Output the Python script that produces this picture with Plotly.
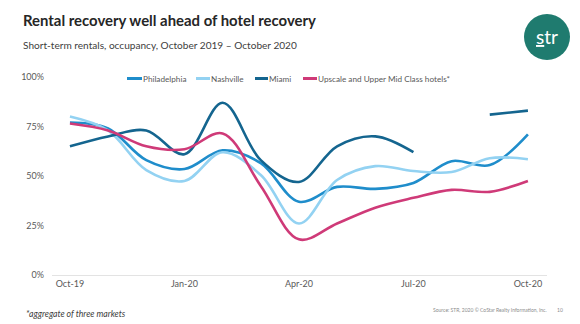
import plotly.graph_objects as go

months = ["Oct-19", "Nov-19", "Dec-19", "Jan-20", "Feb-20", "Mar-20", "Apr-20",
          "May-20", "Jun-20", "Jul-20", "Aug-20", "Sep-20", "Oct-20"]
tick_labels = ["Oct-19", "Jan-20", "Apr-20", "Jul-20", "Oct-20"]

philadelphia = [77, 74, 58, 53.5, 63, 56.5, 37, 44.5, 43.5, 46.5, 57.5, 55.5, 71]
nashville = [80, 73, 53, 47.5, 62, 50.5, 26, 48, 55, 52.5, 52, 59, 58.5]
miami = [65, 70, 73, 61, 87, 58, 47, 65, 70, 62, None, 81, 83]
hotels = [76.5, 73, 65, 63.5, 71.5, 45, 18, 26, 34, 39, 43, 42, 47.5]

series = [
    ("Philadelphia", philadelphia, "#1f8dcb"),
    ("Nashville", nashville, "#93d2f2"),
    ("Miami", miami, "#14658f"),
    ("Upscale and Upper Mid Class hotels*", hotels, "#cf3a78"),
]

L, R, T, B = 52, 33, 77, 49
PW, PH = 580 - L - R, 324 - T - B


def px(x):
    return (x - L) / PW


def py(y):
    return (324 - B - y) / PH


fig = go.Figure()
for name, vals, col in series:
    fig.add_trace(go.Scatter(
        x=months, y=vals, name=name, mode="lines",
        line=dict(color=col, width=2.6, shape="spline", smoothing=1.0),
        connectgaps=False, showlegend=False,
    ))

fig.update_layout(
    width=580, height=324,
    margin=dict(l=L, r=R, t=T, b=B),
    paper_bgcolor="white", plot_bgcolor="white",
    font=dict(family="Lato, Open Sans, sans-serif", color="#595959"),
    showlegend=False,
    xaxis=dict(type="category", categoryorder="array", categoryarray=months,
               range=[-0.47, 12.5], tickmode="array", tickvals=tick_labels,
               ticktext=tick_labels, showgrid=False, zeroline=False,
               showline=True, linecolor="#e3e3e3", linewidth=1,
               ticks="", tickfont=dict(size=9, color="#595959"),
               fixedrange=True),
    yaxis=dict(range=[0, 100], tickvals=[0, 25, 50, 75, 100],
               ticktext=["0%", "25%", "50%", "75%", "100%"],
               showgrid=False, zeroline=False, showline=False, ticks="",
               tickfont=dict(size=9, color="#595959"), ticklabelstandoff=7),
)

# legend (manual, compact like the original)
legend_pos = [(127, 142), (196, 210), (255, 268), (303, 317)]
for (name, vals, col), (sx0, tx) in zip(series, legend_pos):
    fig.add_shape(type="line", xref="paper", yref="paper",
                  x0=px(sx0), x1=px(tx), y0=py(78.5), y1=py(78.5),
                  line=dict(color=col, width=3))
    fig.add_annotation(text=name, xref="paper", yref="paper",
                       x=px(tx), y=py(78.5), xanchor="left", yanchor="middle",
                       showarrow=False, xshift=-1,
                       font=dict(size=8.2, color="#595959"))

# titles
fig.add_annotation(text="<b>Rental recovery well ahead of hotel recovery</b>",
                   xref="paper", yref="paper", x=px(22), y=py(20),
                   xanchor="left", yanchor="middle", showarrow=False, xshift=-1,
                   font=dict(size=14.9, color="#262626"))
fig.add_annotation(text="Short-term rentals, occupancy, October 2019 \u2013 October 2020",
                   xref="paper", yref="paper", x=px(22), y=py(45),
                   xanchor="left", yanchor="middle", showarrow=False, xshift=-1,
                   font=dict(size=10.1, color="#404040"))
fig.add_annotation(text="<i>*aggregate of three markets</i>",
                   xref="paper", yref="paper", x=px(25), y=py(313),
                   xanchor="left", yanchor="middle", showarrow=False, xshift=-1,
                   font=dict(size=8.7, color="#404040"))
fig.add_annotation(text="Source: STR, 2020 \u00a9 CoStar Realty Information, Inc.",
                   xref="paper", yref="paper", x=px(432), y=py(310),
                   xanchor="left", yanchor="middle", showarrow=False, xshift=-1,
                   font=dict(size=5, color="#8c8c8c"))
fig.add_annotation(text="10",
                   xref="paper", yref="paper", x=px(556), y=py(310),
                   xanchor="left", yanchor="middle", showarrow=False, xshift=-1,
                   font=dict(size=5, color="#8c8c8c"))

# logo
fig.add_shape(type="circle", xref="paper", yref="paper",
              x0=px(524), x1=px(570), y0=py(60), y1=py(14),
              fillcolor="#1f7b6f", line=dict(width=0))
fig.add_annotation(text="<u>s</u>tr", xref="paper", yref="paper",
                   x=px(547), y=py(36),
                   xanchor="center", yanchor="middle", showarrow=False,
                   font=dict(size=19, color="white", family="Lato, sans-serif"))

fig.write_html("out.html")
